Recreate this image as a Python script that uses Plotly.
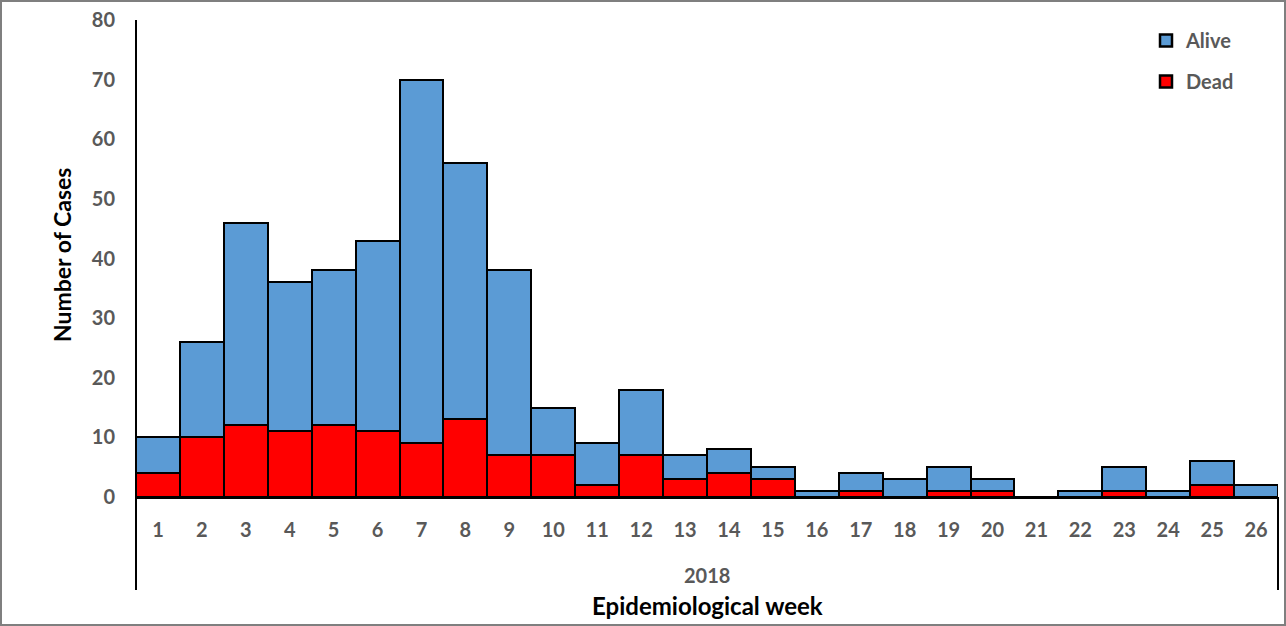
import plotly.graph_objects as go

weeks = [str(i) for i in range(1, 27)]
dead = [4, 10, 12, 11, 12, 11, 9, 13, 7, 7, 2, 7, 3, 4, 3, 0, 1, 0, 1, 1, 0, 0, 1, 0, 2, 0]
alive = [6, 16, 34, 25, 26, 32, 61, 43, 31, 8, 7, 11, 4, 4, 2, 1, 3, 3, 4, 2, 0, 1, 4, 1, 4, 2]
year_label = "2018"
y_ticks = [0, 10, 20, 30, 40, 50, 60, 70, 80]

W, H = 1286, 626
L, R, T, B = 136, 8, 20, 129
pw, ph = W - L - R, H - T - B

def px(x):
    return (x - L) / pw

def py(y):
    return (H - B - y) / ph

FONT = "Lato"
GRAY = "#595959"

fig = go.Figure()
fig.add_trace(go.Bar(x=weeks, y=dead, name="Dead", legendgroup="d", legendrank=2,
                     marker=dict(color="#FF0000", line=dict(color="black", width=2.5))))
fig.add_trace(go.Bar(x=weeks, y=alive, name="Alive", legendgroup="a", legendrank=1,
                     marker=dict(color="#5B9BD5", line=dict(color="black", width=2.5))))

fig.update_layout(
    width=W, height=H,
    margin=dict(l=L, r=R, t=T, b=B),
    barmode="stack", bargap=0,
    plot_bgcolor="white", paper_bgcolor="white",
    font=dict(family=FONT, color=GRAY),
    showlegend=True,
    legend=dict(x=px(1146), y=py(21), xanchor="left", yanchor="top",
                traceorder="grouped", tracegroupgap=12,
                font=dict(family=FONT, size=20, color=GRAY, weight="bold"),
                bgcolor="rgba(0,0,0,0)"),
    xaxis=dict(range=[-0.5, 25.5], showgrid=False, showline=True, linecolor="black",
               linewidth=1.5, ticks="", ticklabelstandoff=14,
               tickfont=dict(family=FONT, size=20, color=GRAY, weight="bold"),
               zeroline=False, fixedrange=True),
    yaxis=dict(range=[0, 80], tickvals=y_ticks, showgrid=False, showline=False,
               ticks="", ticklabelstandoff=20, zeroline=False,
               tickfont=dict(family=FONT, size=20, color=GRAY, weight="bold")),
    shapes=[
        dict(type="line", xref="paper", yref="paper", x0=0, x1=0, y0=1, y1=py(590),
             line=dict(color="black", width=2)),
        dict(type="line", xref="paper", yref="paper", x0=1, x1=1, y0=0, y1=py(590),
             line=dict(color="black", width=2)),
        dict(type="rect", xref="paper", yref="paper", x0=px(1), x1=px(1285),
             y0=py(1), y1=py(625), line=dict(color="#7F7F7F", width=2)),
    ],
    annotations=[
        dict(text=year_label, xref="paper", yref="paper", x=0.5, y=py(575),
             xanchor="center", yanchor="middle", showarrow=False,
             font=dict(family=FONT, size=20, color=GRAY, weight="bold")),
        dict(text="Epidemiological week", xref="paper", yref="paper", x=0.5, y=py(606),
             xanchor="center", yanchor="middle", showarrow=False,
             font=dict(family=FONT, size=24, color="black", weight="bold")),
        dict(text="Number of Cases", xref="paper", yref="paper", x=px(62), y=py(255),
             xanchor="center", yanchor="middle", textangle=-90, showarrow=False,
             font=dict(family=FONT, size=23, color="black", weight="bold")),
    ],
)

fig.write_html("out.html", config={"displayModeBar": False},
               post_script="document.body.style.margin='0';document.body.style.overflow='hidden';")
